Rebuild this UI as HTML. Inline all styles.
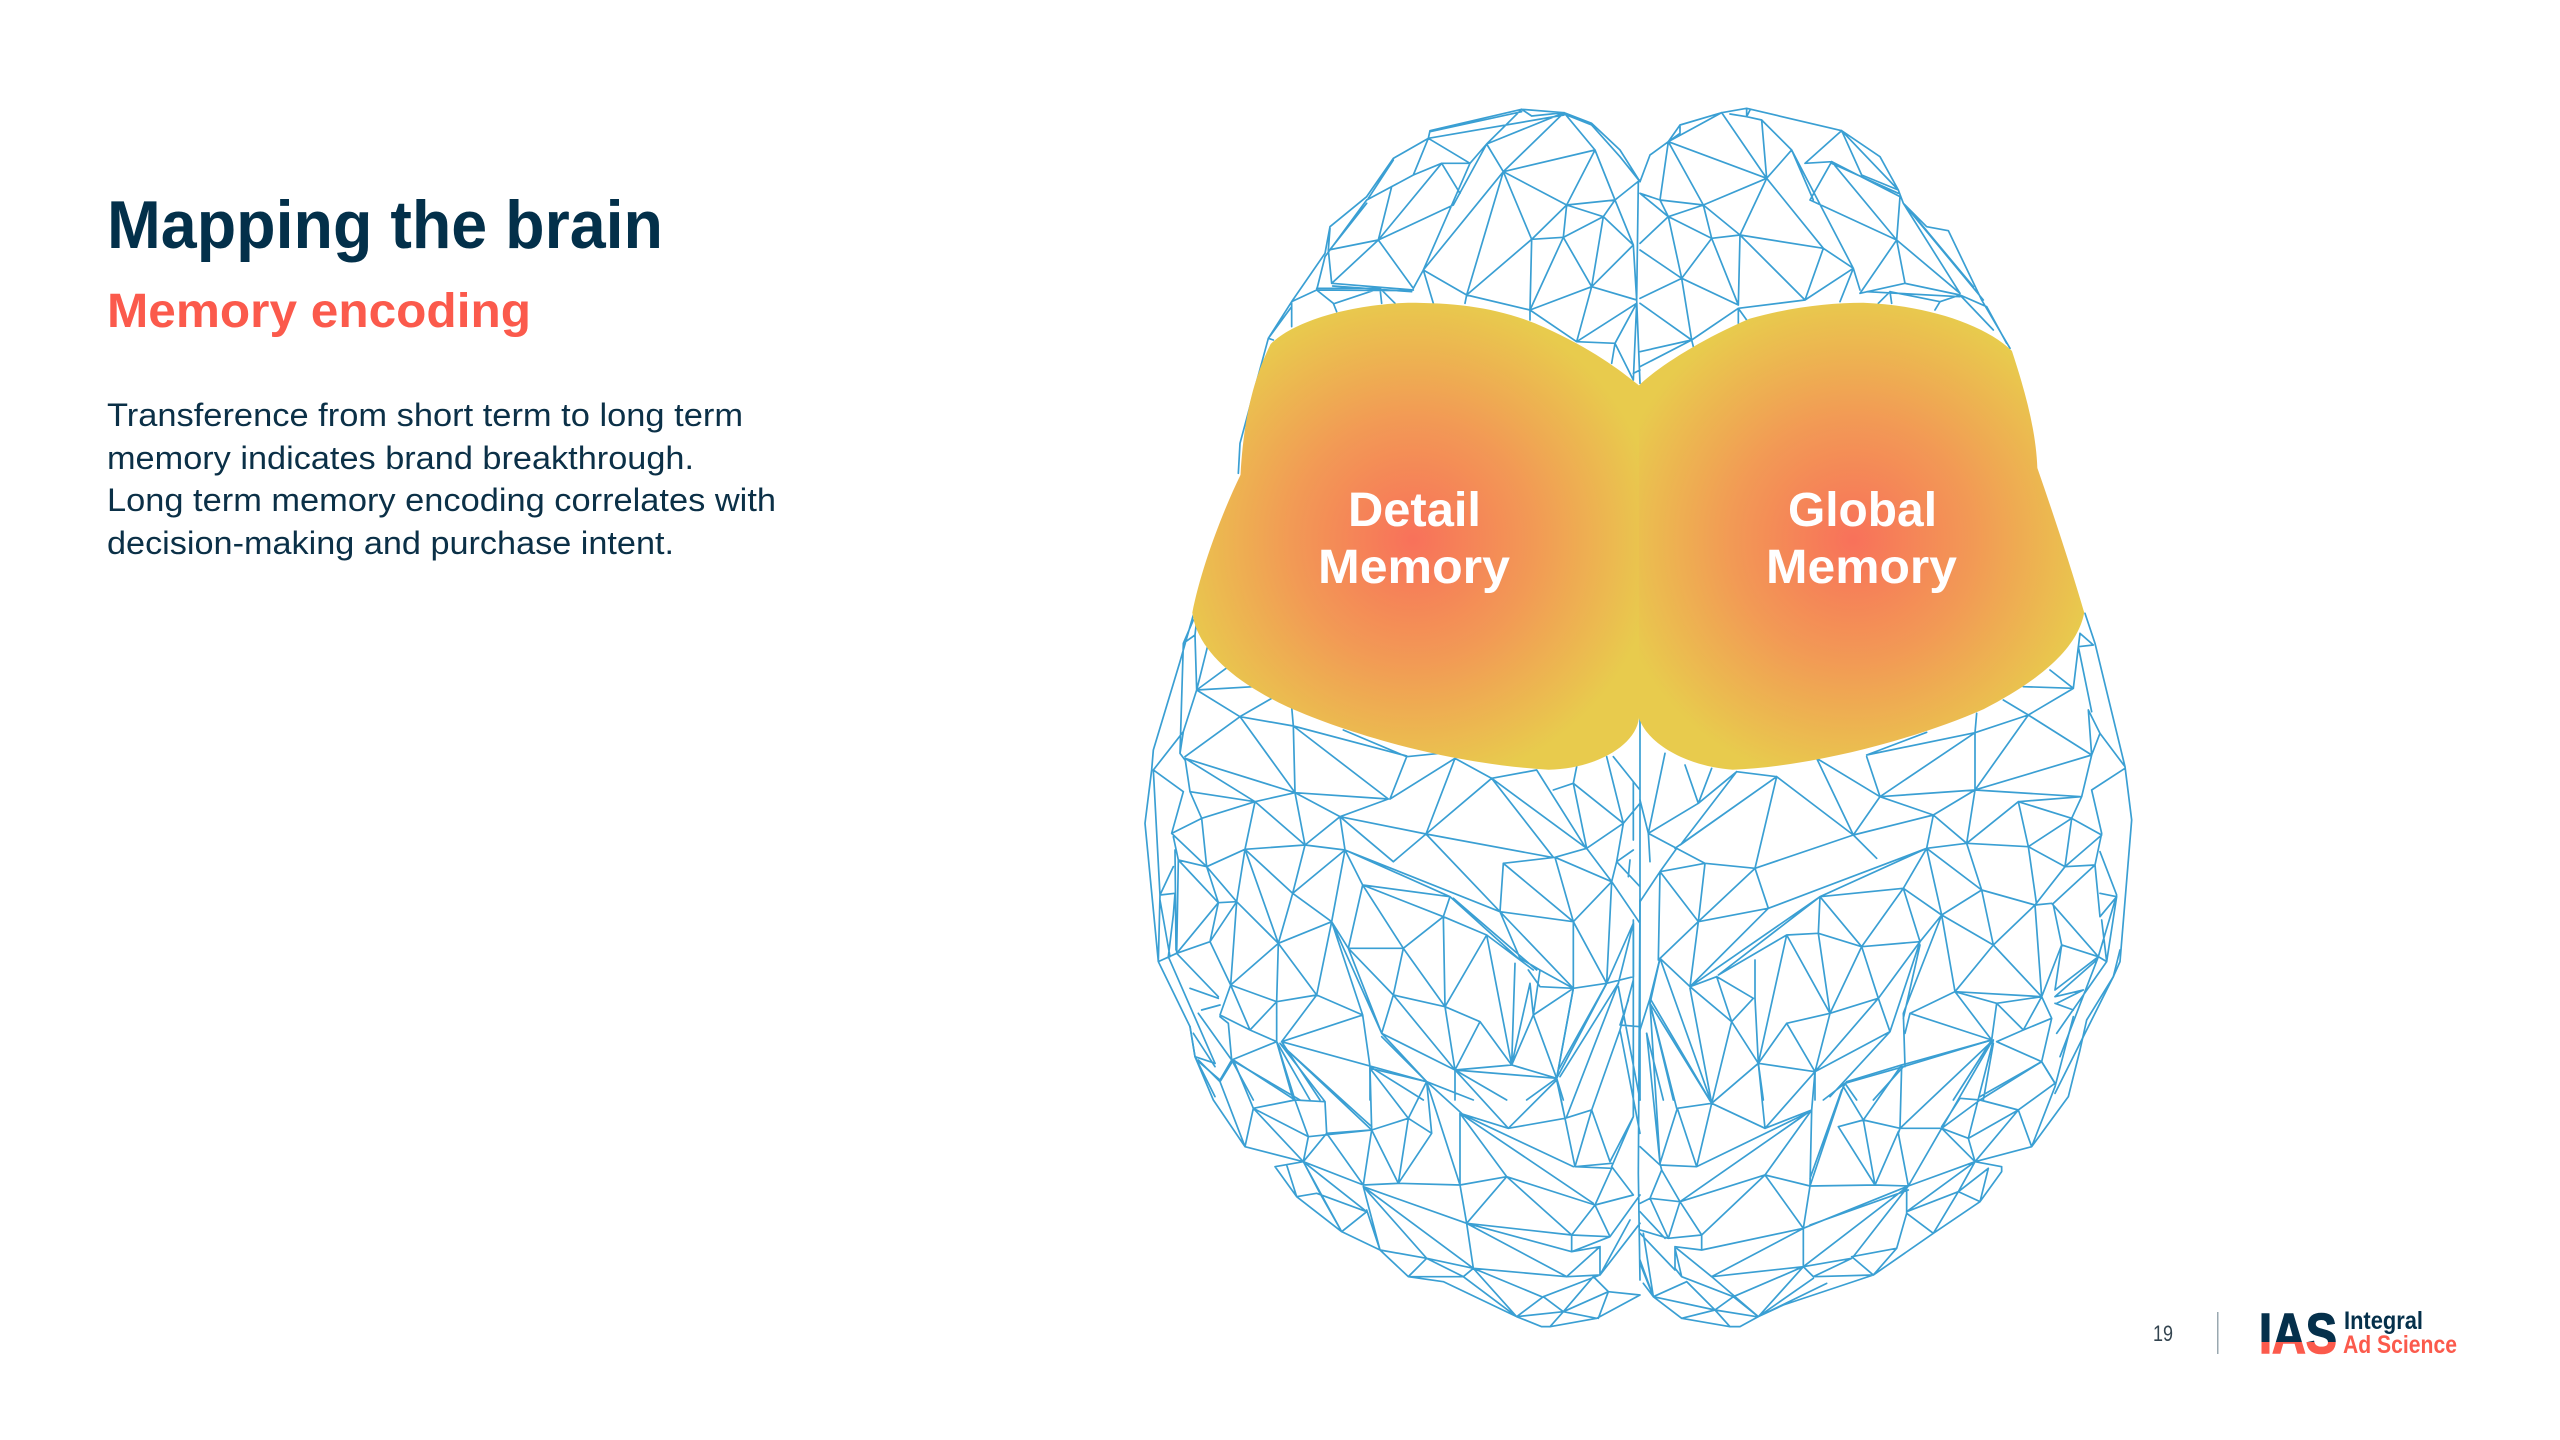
<!DOCTYPE html>
<html>
<head>
<meta charset="utf-8">
<style>
html,body{margin:0;padding:0;background:#fff;width:2560px;height:1440px;overflow:hidden}
svg{display:block}
text{font-family:"Liberation Sans",sans-serif}
.m{fill:none;stroke:#3a9fd3;stroke-width:1.7;stroke-linejoin:round;stroke-linecap:round;vector-effect:non-scaling-stroke}
</style>
</head>
<body>
<svg width="2560" height="1440" viewBox="0 0 2560 1440" xmlns="http://www.w3.org/2000/svg">
<defs>
<radialGradient id="gl" gradientUnits="userSpaceOnUse" cx="0" cy="0" r="1" gradientTransform="translate(437.6,1001.7) scale(366,533.5)">
<stop offset="0" stop-color="#f8715a"/><stop offset=".5" stop-color="#f29a55"/><stop offset="1" stop-color="#e8cb4d"/>
</radialGradient>
<radialGradient id="gr" gradientUnits="userSpaceOnUse" cx="0" cy="0" r="1" gradientTransform="translate(1094.7,1001.7) scale(366,533.5)">
<stop offset="0" stop-color="#f8715a"/><stop offset=".5" stop-color="#f29a55"/><stop offset="1" stop-color="#e8cb4d"/>
</radialGradient>
<linearGradient id="ias" gradientUnits="userSpaceOnUse" x1="0" y1="1312" x2="0" y2="1354">
<stop offset="0" stop-color="#05304b"/><stop offset=".72" stop-color="#05304b"/><stop offset=".72" stop-color="#fb5a4c"/><stop offset="1" stop-color="#fb5a4c"/>
</linearGradient>
</defs>

<!-- Top left mesh -->
<g transform="translate(1140,100) scale(.33333)">
<path class="m" d="M1500 245 1440 150 1355 70 1272 38 1145 28 870 92 865 115 760 175 680 290 570 380 555 460 455 605 385 715 300 1030 295 1120
M1145 28 1175 48 1272 38 M1145 28 1040 132 M870 95 1145 35 M865 115 1272 45 M865 115 990 190 1040 132 1272 38 M1040 132 1090 215 1272 38 1365 150 1090 215 M1272 42 1355 75 1440 170 1500 245 M1365 150 1425 300 1500 240 M1365 150 1280 315 M1090 215 1280 315 1425 300 1390 350 1280 315 M1090 215 1175 418 1280 315 M1175 418 1270 412 1390 350 M1280 315 1270 412 M1425 300 1480 435 1390 350 1355 560 1270 412 M1480 435 1355 560 M1480 435 1490 600 1355 560 1170 630 1270 412 M1175 418 1170 630 M1175 418 980 585 1090 215 850 510 990 190 1040 132 940 315 M865 115 820 225 905 190 990 190 M905 190 960 280 M905 190 715 420 M755 260 820 225 M755 260 715 420 M940 315 715 420 820 565 M715 420 565 450 M715 420 575 550 M850 510 820 565 M850 510 980 585 M850 510 880 610 M980 585 1170 630 M980 585 975 610 M1170 630 1310 725 M1170 630 1170 660 M1355 560 1310 725 1490 610 M1310 725 1425 730 1490 610 1480 840 M1425 730 1415 790 M1425 730 1480 840 M1500 810 1480 820 M565 450 575 550 M555 470 530 570 M575 550 820 570 M578 558 815 575 M530 565 720 565 585 610 M530 570 815 572 M530 570 580 610 590 635 M720 565 765 610 M720 565 725 610 M455 605 530 570 M455 605 455 680 M385 715 400 720 M570 385 565 450 M565 455 680 310 M555 470 680 300 755 260 M685 295 760 180 M385 715 455 620 M1495 245 1490 600 1500 850"/>
</g>

<!-- Top right mesh -->
<g transform="translate(1640,100) scale(.33333)">
<path class="m" d="M0 245 30 165 85 125 120 75 245 38 320 25 605 92 720 170 775 270 790 310 860 380 925 392 1025 600 1110 745
M270 42 320 50 330 30 M320 25 320 50 M245 38 380 235 M320 50 365 60 380 235 M365 60 455 150 M85 125 120 100 120 75 M85 125 245 38 M85 125 380 235 M85 125 190 315 M85 125 60 300 M380 235 455 150 M380 235 190 315 M60 300 190 315 85 350 60 300 M0 280 85 350 M0 280 60 300 M190 315 215 415 M190 315 300 405 380 235 M85 350 215 415 300 405 M85 350 125 535 215 415 295 615 M300 405 295 615 M300 405 550 445 M300 405 495 600 M380 235 550 445 M455 150 640 505 M455 150 520 300 M550 445 495 600 640 505 M550 445 640 505 660 570 M640 505 600 605 M605 92 495 190 575 185 M605 92 665 225 M575 185 780 290 M575 190 775 280 M575 185 510 300 770 420 M575 185 770 420 780 290 M665 225 775 270 M605 92 775 270 M770 420 660 580 M770 420 795 550 M770 420 960 580 M790 310 960 580 M790 310 1030 600 M800 320 1000 560 M795 550 660 580 M795 550 960 585 M680 575 960 590 M750 575 900 605 M750 575 715 610 M750 575 755 610 M960 585 900 605 885 630 M960 585 1040 620 1100 730 M960 585 1060 690 M495 600 295 625 M125 535 295 615 M125 535 0 595 M125 535 155 720 295 625 320 660 M295 625 295 670 M0 610 155 720 0 755 M155 720 0 800 M155 720 160 740 M85 350 0 430 M0 450 125 535"/>
</g>

<!-- Middle left mesh -->
<g transform="translate(1140,600) scale(.33333)">
<path class="m" d="M160 45 120 185 40 450 35 510 15 670 55 1085 150 1280 165 1370 225 1490
M1500 300 1500 1500
M160 60 130 130 165 105 170 60 M130 130 120 460 135 480 M165 105 170 270 205 130 M170 270 340 260 M170 270 265 200 M170 270 300 350 395 295 M300 350 460 378 800 468 M460 378 455 320 M460 378 465 578 M460 378 745 597 M610 390 795 468 800 470 750 597 M800 470 900 460 M945 475 750 597 M945 475 858 702 M170 270 130 395 120 460 M135 470 300 350 465 578 M135 475 465 578 M135 475 345 605 M130 395 40 510 M130 575 40 510 M135 475 150 575 M130 575 95 700 M150 575 345 605 M150 575 185 655 345 605 M95 700 185 655 200 800 M95 700 200 800 M345 605 315 748 200 800 M345 605 495 735 465 578 345 605 M465 578 745 597 M465 578 600 650 745 597 M600 650 495 735 M600 650 615 750 M600 650 858 702 M600 650 760 785 M315 748 495 735 615 750 M495 735 458 880 615 750 1080 935 M615 750 930 890 M615 750 575 965 M615 750 668 855 M858 702 760 785 M858 702 1235 772 M858 702 1080 935 M1055 535 858 702 M1055 535 1240 772 M1055 535 1340 745 M1055 535 945 475 M1055 535 1190 510 1335 740 M1240 570 1300 550 1340 745 M1300 550 1450 670 1340 745 1245 772 1090 790 1080 935 M1090 790 1300 965 1245 772 1415 845 1340 745 M1300 965 1415 845 M1080 935 1300 965 1300 1165 M1300 965 1400 1150 1415 845 1500 970 M1450 670 1430 785 1415 845 M1430 785 1500 860 M1430 785 1480 750 M1470 780 1465 830 M1310 500 1300 550 M1400 470 1450 670 1500 610 M1480 545 1480 720 M1420 470 1500 570
M668 855 930 890 M668 855 910 950 M668 855 790 1045 M668 855 625 1045 790 1045 M575 965 625 1045 M930 890 910 950 790 1045 M910 950 1040 1005 M930 890 1135 1075 M940 895 1190 1110 M1040 1005 1180 1110 M1040 1005 1115 1395 M1040 1005 915 1220 910 950 M790 1045 915 1220 M790 1045 760 1185 M1080 935 1140 1075 1200 1110 1300 1165 M1080 935 1300 1165 M1165 1110 1200 1160 1300 1165 M1125 1090 1115 1395 M1170 1150 1115 1395 M1200 1110 1180 1245 M1170 1150 1180 1245 1300 1165 M1180 1245 1115 1395 M1180 1245 1250 1435 M1300 1165 1400 1150 1480 1130 M1300 1165 1250 1435 1400 1150 M1435 1150 1260 1430 M1480 970 1400 1150 M1480 970 1435 1150 M1480 970 1480 1130
M458 880 575 965 M458 880 415 1030 M315 748 415 1030 M315 748 458 880 M315 748 290 905 235 908 200 800 290 905 M115 780 235 908 M100 710 115 780 200 800 M115 780 110 1060 M235 908 210 1025 290 905 M235 908 110 1060 210 1025 272 1155 290 905 415 1030 272 1155 M415 1030 575 965 M415 1030 410 1205 M415 1030 530 1185 575 965 M272 1155 410 1205 530 1185 M272 1155 330 1290 410 1205 410 1325 M530 1185 425 1325 M530 1185 668 1245 425 1325 M668 1245 690 1400 M575 965 668 1245 M575 965 725 1300 M625 1045 725 1300 M625 1045 760 1185 725 1300 M760 1185 915 1220 M760 1185 945 1410 M915 1220 1020 1265 M915 1220 945 1410 1020 1265 1115 1395 M725 1300 945 1410 M725 1300 860 1445 M425 1325 860 1445 M272 1155 240 1245 330 1290 410 1325 M240 1250 265 1270 275 1380 M410 1325 275 1380 M410 1325 510 1500 M425 1325 540 1500 M410 1325 460 1500 M945 1410 1115 1395 1250 1435 945 1410 M690 1400 850 1500 M690 1400 690 1500 M275 1380 480 1500 M275 1380 240 1440 M275 1380 340 1500 M55 1085 110 1060 235 1190 M85 1070 225 1390 M150 1165 235 1195 M185 1230 240 1215 M175 1240 275 1380 M160 1300 225 1400 M170 1380 240 1440 M40 510 60 885 105 880 100 945 M60 885 100 800 M60 885 55 1085 M60 900 90 1070 M100 945 85 1070 M105 750 108 1050 M860 1445 1000 1500 M945 1410 945 1500 M945 1410 1100 1500 M1250 1435 1270 1500 M1250 1435 1160 1500"/>
</g>

<!-- Middle right mesh -->
<g transform="translate(1640,600) scale(.33333)">
<path class="m" d="M1335 40 1365 130 1455 500 1475 660 1440 1085 1420 1130 1330 1310 1245 1480
M1320 100 1360 135 1315 140 1300 265 M1320 100 1300 265 M1315 140 1355 335 M1345 330 1380 400 1355 465 M1345 330 1355 465 M1380 400 1455 500 M1300 265 1150 260 M1300 265 1230 210 M1300 265 1165 345 1090 300 M1165 345 1005 398 1010 340 M1165 345 1005 570 M1165 345 1355 465 M1005 398 680 465 M1005 398 720 590 M860 397 680 465 M1005 570 1005 398 M1005 570 1355 465 M1005 570 720 590 M1005 570 1325 590 M1005 570 880 645 M1005 570 980 730 M1355 570 1455 505 M1355 465 1325 590 M1355 570 1385 700 M1325 590 1135 605 1295 655 1325 590 M1135 605 980 730 M1135 605 1165 740 1295 655 1385 705 M1295 655 1275 800 1385 705 M1165 740 1275 800 M1165 740 980 730 880 645 M980 730 1025 870 M980 730 860 745 M880 645 720 590 M880 645 640 705 M880 645 860 745 M720 590 640 705 M720 590 680 470 M530 475 640 705 M530 475 720 590 M640 705 345 805 M640 705 710 775 M860 745 385 925 M860 745 540 890 M860 745 790 865 M860 745 905 945 M860 745 1025 870 M540 890 790 865 905 945 M790 865 665 1040 M790 865 840 1025 665 1040 M905 945 840 1025 M1025 870 905 945 M1025 870 1185 915 M1025 870 1060 1035 905 945 945 1175 1060 1035 1185 915 M1060 1035 1205 1190 M1165 740 1190 915 M1275 800 1185 915 M1275 800 1365 795 1240 910 M1235 910 1185 915 M1235 910 1375 1070 M1185 915 1205 1190 M1240 915 1265 1035 1375 1070 M1265 1035 1205 1190 M1265 1035 1245 1170 M945 1175 1205 1190 M945 1175 1070 1210 1205 1190 M945 1175 810 1240 M945 1175 1055 1320 M1070 1210 1055 1320 M1070 1210 1150 1290 M1205 1190 1150 1290 M1205 1190 1235 1255 1150 1290 1070 1325 M810 1240 1055 1320 M810 1240 795 1300 M1055 1320 790 1400 M1070 1325 1205 1385 1235 1255 M1205 1385 1245 1450 M1205 1385 1020 1490 M1055 1320 940 1500 M1060 1330 1030 1500 M1385 700 1365 795 1380 950 1430 890 1380 880 M1380 755 1430 885 1375 1070 1400 1085 M1430 890 1400 1085 1385 960 M1375 1070 1245 1170 M1400 1085 1250 1300 M1245 1190 1330 1170 1250 1210 M1245 1210 1300 1230 M1375 1070 1260 1370 M1245 1190 1370 1080
M410 530 290 515 M410 530 640 705 M410 530 345 805 M410 530 105 745 M410 530 120 735 M290 515 175 610 135 495 M290 515 125 730 M175 610 215 505 M175 610 25 700 75 460 M25 700 0 600 M25 700 110 745 M25 700 30 785 M110 745 60 815 M110 745 195 790 345 805 M60 815 195 790 175 965 345 805 385 925 175 965 60 815 M60 815 55 1080 M60 815 0 905 M175 965 60 1075 M175 965 150 1160 60 1075 30 1195 M60 1075 215 1510 M150 1165 215 1510 M150 1160 230 1130 M385 925 150 1160 M540 890 150 1160 M540 890 235 1125 M440 1005 235 1125 M540 890 535 1000 440 1005 M540 890 665 1040 535 1000 570 1240 440 1005 355 1390 M345 1080 345 1195 355 1390 M665 1040 570 1240 M665 1040 715 1195 840 1025 750 1295 M840 1035 790 1255 M715 1195 570 1240 440 1270 355 1390 M440 1270 525 1415 570 1240 M715 1195 525 1415 750 1295 715 1195 M905 945 790 1240 795 1400 M230 1130 340 1195 275 1265 230 1130 M150 1160 275 1265 215 1510 M275 1265 355 1390 215 1510 M355 1390 525 1415 M355 1390 370 1500 M525 1415 525 1500 M750 1295 570 1490 M790 1400 615 1450 M790 1400 700 1500 M615 1450 650 1500 M615 1450 550 1500 M30 1195 215 1510 M30 1195 0 1290 M30 1210 100 1500 M20 1300 70 1500"/>
</g>

<!-- Bottom left mesh -->
<g transform="translate(1140,900) scale(.33333)">
<path class="m" d="M150 380 165 470 220 600 315 740 490 785 405 800 470 890 605 995 720 1050 805 1130 910 1145 1130 1250 1205 1280 1230 1280 1370 1255 1500 1185
M315 740 340 625 465 600 555 605 560 700 M340 625 505 710 M340 625 490 785 M340 625 280 480 M240 545 315 740 M240 545 280 480 M280 480 465 600 505 710 M465 600 410 425 M555 605 420 430 M505 710 490 785 M505 710 695 690 560 700 490 785 M560 700 670 855 695 690 775 850 M695 690 805 655 860 545 M805 655 690 505 695 690 M805 655 875 700 775 850 805 655 M860 545 875 700 M860 545 960 855 M860 545 690 505 M860 545 725 410 M860 545 965 640 M695 690 420 430 M695 680 430 440 M960 640 960 855 M960 640 1100 830 M960 640 1105 685 M960 640 1300 800 M960 640 1360 910 M1105 685 1250 540 M1105 685 1275 655 1250 540 M1105 685 950 515 M1275 655 1355 630 M1275 655 1305 800 1355 630 1410 785 M1355 630 1440 390 M1305 800 1415 790 M1305 800 1415 805 1365 915 1100 830 960 855 M1415 800 1480 885 1365 915 1295 1005 M1365 915 1410 1010 M1415 800 1480 650 M1100 830 980 970 M1100 830 1295 1005 M960 855 980 970 M960 855 775 850 670 855 M670 860 980 970 M670 860 1000 1105 M670 860 860 1075 M670 860 720 1050 M680 930 720 1050 M980 970 1000 1105 M980 970 1295 1005 M980 970 1295 1055 M980 970 1280 1130 M1295 1005 1295 1055 1410 1010 1295 1005 M1280 1130 1380 1040 1380 1125 M1295 1055 1380 1040 M1000 1105 1280 1130 1380 1125 1210 1190 1130 1250 M1000 1105 1205 1190 M1000 1105 1130 1250 M1000 1105 860 1075 720 1050 M860 1075 970 1130 M860 1075 805 1130 970 1130 1000 1105 M970 1130 1130 1250 M1210 1190 1270 1235 M1360 1130 1270 1235 1130 1250 M1360 1130 1405 1175 M1270 1235 1405 1175 1375 1255 M1270 1235 1370 1255 M1270 1235 1230 1280 M1405 1175 1500 1185 M1380 1125 1500 970 M1410 1010 1500 885 M1380 1125 1470 960 M490 785 670 855 M490 785 680 935 M490 785 540 880 605 995 M490 785 605 995 680 935 M470 890 530 880 680 935 M440 795 470 890
M1300 265 1250 535 M1400 250 1255 510 M1435 250 1280 650 M1440 390 1355 630 M1480 240 1440 390 M1465 300 1440 375 1500 380 M1440 390 1500 700 M1480 650 1410 785 M1480 650 1480 60 M1500 0 1495 820 1500 1140 M1435 260 1500 600 M1250 535 1275 655 M165 470 225 490 M175 480 240 545"/>
</g>

<!-- Bottom right mesh -->
<g transform="translate(1640,900) scale(.33333)">
<path class="m" d="M1440 150 1420 230 1340 360 1320 450 1285 590 1175 740 M1300 350 1245 560 1175 740
M215 610 112 625 60 790 M112 625 170 800 215 610 375 685 355 490 M525 515 375 685 M525 515 515 630 375 685 M510 635 170 800 60 795 0 740 M515 630 375 825 120 905 M515 630 120 905 M375 825 185 1005 120 905 M375 825 510 858 515 630 M375 825 490 985 510 858 705 855 805 858 M510 858 610 560 620 545 M510 835 605 570 M595 680 705 855 M595 680 670 660 610 560 M670 660 705 855 M670 660 780 685 M705 855 775 695 M780 685 775 700 805 858 M780 685 905 685 805 858 M785 495 620 545 M785 495 670 660 M785 495 780 685 M1055 420 785 495 M1055 425 780 685 M1055 425 905 685 M1060 420 985 715 M905 685 985 715 M905 685 1005 785 985 715 1135 630 M1020 600 960 595 905 680 M1020 600 905 685 M1020 600 1135 630 M1020 600 1205 485 M1135 630 1245 550 M1135 630 1175 740 1005 785 M1205 485 1245 550 M1135 630 1005 785 805 858 M1005 785 800 935 M1005 785 955 875 1045 805 M1005 785 1085 800 1085 815 1020 905 1045 805 M955 875 1020 905 M955 875 880 1000 800 940 M800 935 955 875 M800 860 800 940 770 1045 M880 1000 700 1125 M805 858 490 985 M805 870 510 975 M805 858 490 1100 M805 858 640 1070 M770 1045 635 1070 700 1125 M770 1045 700 1125 M490 985 490 1100 M490 985 215 1130 M490 985 185 1050 105 1040 M185 1005 85 1015 M185 1005 185 1050 M490 1100 635 1075 M490 1100 215 1130 110 1045 M490 1100 355 1250 M490 1100 520 1130 700 1125 M635 1075 520 1130 M490 1100 280 1190 M215 1130 355 1250 M125 1130 280 1190 355 1250 M140 1145 225 1230 280 1190 M140 1145 40 1190 M125 1130 105 1045 M40 1190 225 1230 350 1250 M225 1230 270 1280 M125 1255 225 1230 M355 1250 430 1215 700 1125 M355 1250 520 1135 M355 1250 560 1150 M355 1250 300 1280 270 1280 125 1255 40 1190 10 1150 M40 1190 0 1090 M880 1000 1020 905
M120 905 30 895 65 810 120 905 85 1015 30 895 M30 895 0 910 M0 990 85 1015 M0 935 75 1015 M105 1040 105 1105 125 1130 M85 1015 185 1005 M60 790 65 810 M0 1080 40 1190 M10 1000 40 1190 M0 1000 105 1110 M60 175 30 310 215 610 M30 310 110 625 M20 400 60 790 M30 310 60 790"/>
</g>

<!-- Blobs -->
<g transform="translate(1120,80) scale(0.6696,0.4592)">
<path fill="url(#gl)" d="M775 665 C745 630 700 580 620 530 C560 495 500 485 430 485 C340 490 260 525 225 575 C200 650 185 730 180 860 C150 950 120 1070 108 1160 C115 1240 170 1310 250 1365 C350 1430 500 1490 640 1502 C710 1500 770 1450 775 1390 L790 1000 Z"/>
<path fill="url(#gr)" d="M775 665 C800 630 860 570 940 520 C1000 495 1060 485 1110 485 C1200 490 1290 530 1332 590 C1350 670 1368 760 1370 845 C1395 950 1420 1060 1440 1160 C1430 1240 1370 1310 1290 1370 C1180 1440 1030 1495 915 1502 C850 1495 790 1450 775 1390 L775 1000 Z"/>
</g>

<!-- Blob labels -->
<g fill="#fff" font-weight="700" font-size="48">
<text x="1348" y="526" textLength="133" lengthAdjust="spacingAndGlyphs">Detail</text>
<text x="1318" y="583" textLength="192" lengthAdjust="spacingAndGlyphs">Memory</text>
<text x="1788" y="526" textLength="149" lengthAdjust="spacingAndGlyphs">Global</text>
<text x="1766" y="583" textLength="191" lengthAdjust="spacingAndGlyphs">Memory</text>
</g>

<!-- Heading and body -->
<text x="107" y="248" font-size="68" font-weight="700" fill="#03304a" textLength="556" lengthAdjust="spacingAndGlyphs">Mapping the brain</text>
<text x="107" y="327" font-size="48" font-weight="700" fill="#fb5a4c" textLength="424" lengthAdjust="spacingAndGlyphs">Memory encoding</text>
<g font-size="32" fill="#0b3047">
<text x="107" y="426" textLength="636" lengthAdjust="spacingAndGlyphs">Transference from short term to long term</text>
<text x="107" y="469" textLength="587" lengthAdjust="spacingAndGlyphs">memory indicates brand breakthrough.</text>
<text x="107" y="511" textLength="669" lengthAdjust="spacingAndGlyphs">Long term memory encoding correlates with</text>
<text x="107" y="554" textLength="567" lengthAdjust="spacingAndGlyphs">decision-making and purchase intent.</text>
</g>

<!-- Footer -->
<text x="2153" y="1341" font-size="22" fill="#33444f" textLength="20" lengthAdjust="spacingAndGlyphs">19</text>
<rect x="2217" y="1312" width="1.5" height="42" fill="#9aa8b0"/>
<text x="2259" y="1353" font-size="57" font-weight="700" fill="url(#ias)" stroke="url(#ias)" stroke-width="1.5" textLength="78" lengthAdjust="spacingAndGlyphs">IAS</text>
<text x="2344" y="1329" font-size="25" font-weight="700" fill="#05304b" textLength="79" lengthAdjust="spacingAndGlyphs">Integral</text>
<text x="2343" y="1353" font-size="25" font-weight="700" fill="#fb5a4c" textLength="114" lengthAdjust="spacingAndGlyphs">Ad Science</text>
</svg>
</body>
</html>
